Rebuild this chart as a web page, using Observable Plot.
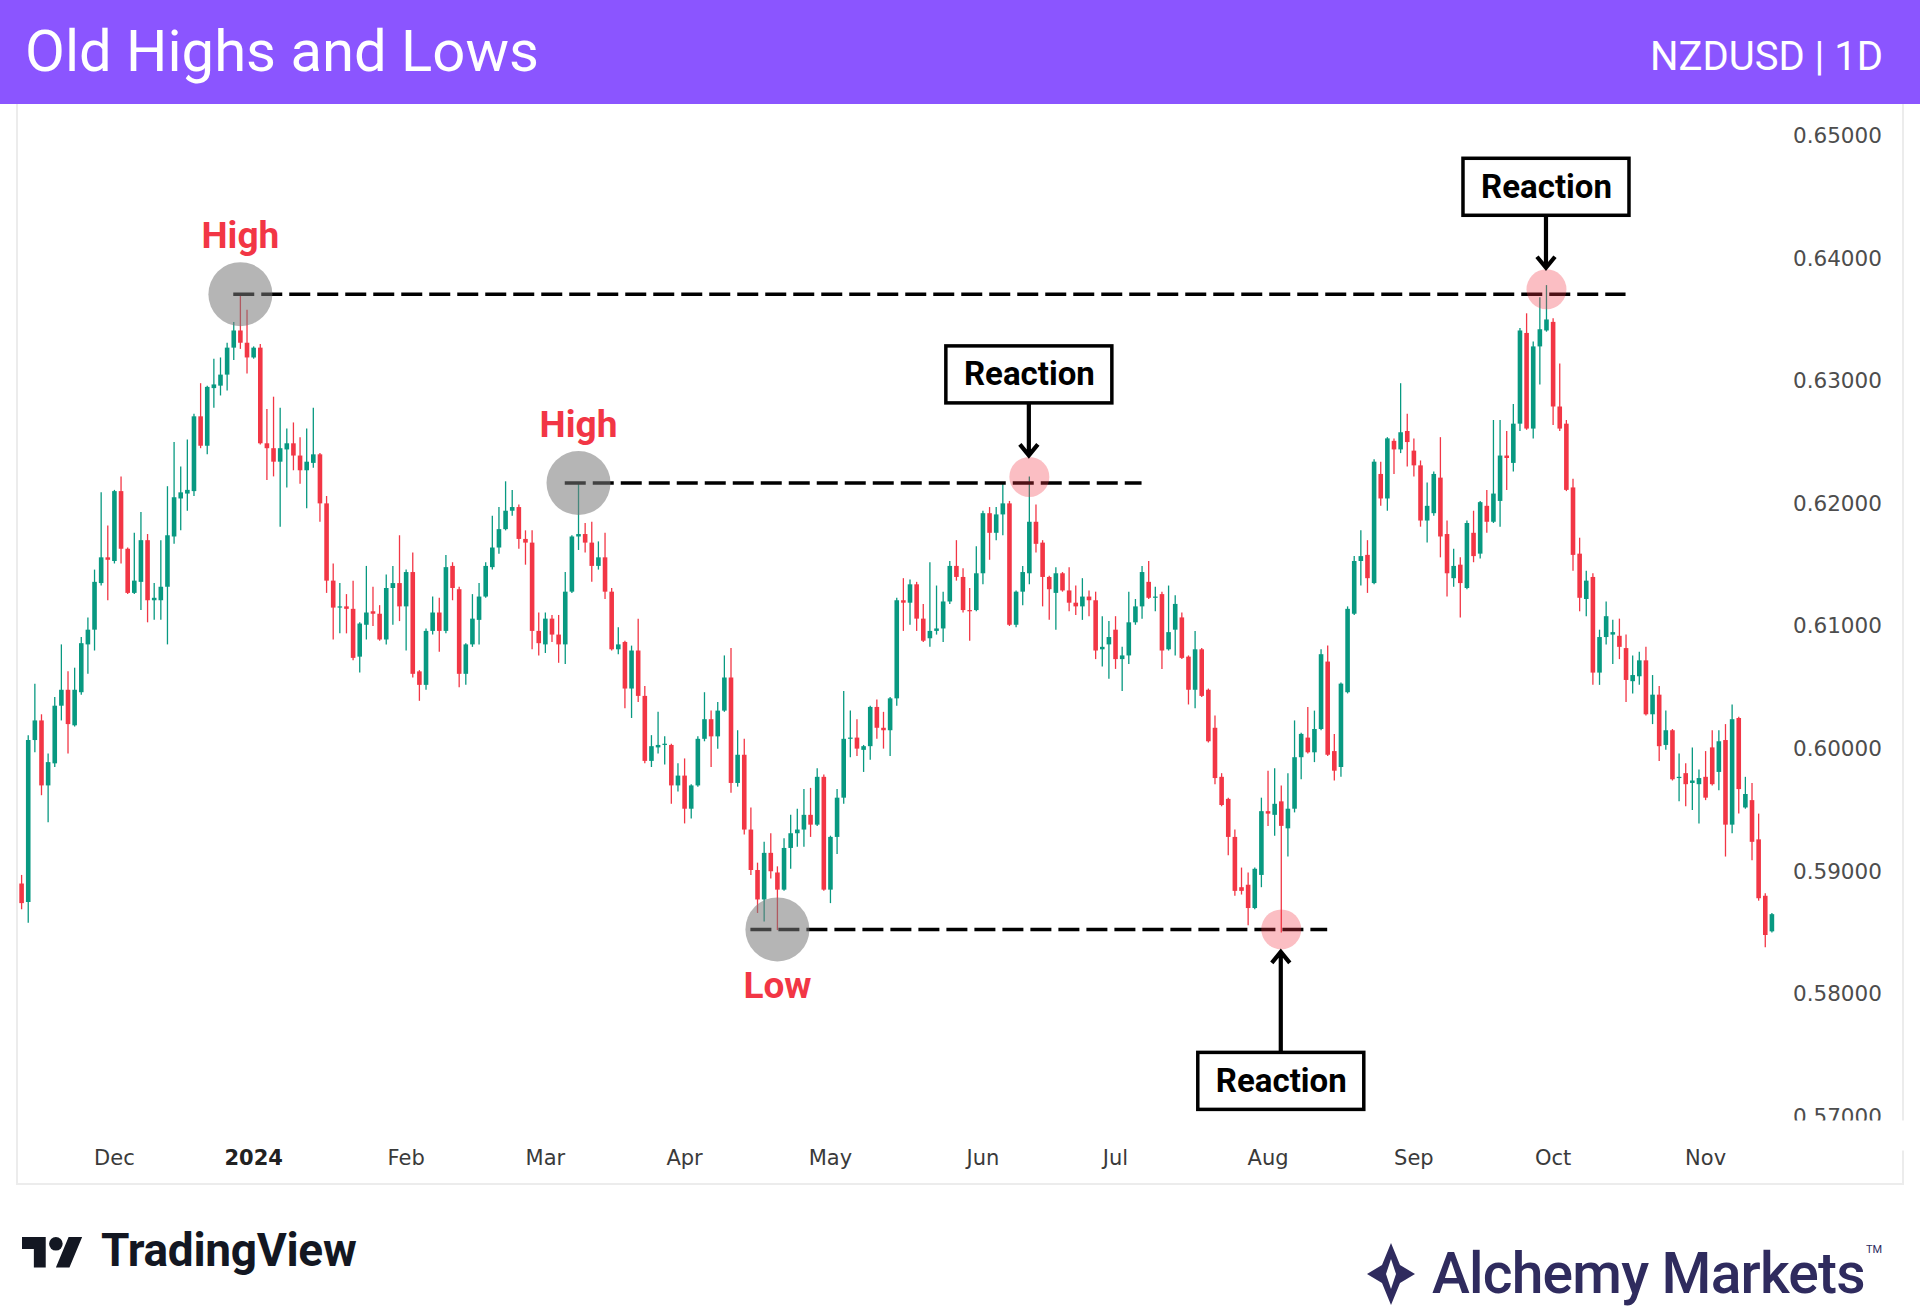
<!DOCTYPE html>
<html>
<head>
<meta charset="utf-8">
<script src="https://cdn.jsdelivr.net/npm/d3@7"></script>
<script src="https://cdn.jsdelivr.net/npm/@observablehq/plot@0.6"></script>
<style>
html,body{margin:0;padding:0;background:#fff;}
body{width:1920px;height:1314px;position:relative;overflow:hidden;font-family:Roboto,sans-serif;}
#header{position:absolute;left:0;top:0;width:1920px;height:104px;background:#8b55ff;}
#title{position:absolute;left:25px;top:22px;color:#fff;font-family:Roboto;font-weight:400;font-size:58px;line-height:58px;white-space:nowrap;}
#symbol{position:absolute;right:37px;top:37px;color:#fff;font-family:Roboto;font-weight:400;font-size:40px;line-height:40px;white-space:nowrap;}
#panel{position:absolute;left:16px;top:104px;width:1884px;height:1079px;border-left:2px solid #ececec;border-right:2px solid #ececec;border-bottom:2px solid #ececec;}
#chart{position:absolute;left:0;top:104px;width:1920px;height:1082px;}
#tvtext{position:absolute;left:101px;top:1227px;font-family:Roboto;font-weight:700;font-size:46px;line-height:46px;color:#131722;letter-spacing:-0.3px;}
#tvicon{position:absolute;left:22px;top:1230px;}
#amtext{position:absolute;left:1432px;top:1245px;font-family:Roboto;font-weight:500;font-size:57px;line-height:57px;color:#2f2b5e;letter-spacing:-0.8px;white-space:nowrap;}
#tm{position:absolute;left:1866px;top:1243px;font-family:Roboto;font-size:11px;color:#2f2b5e;}
#amicon{position:absolute;left:1365px;top:1243px;}
</style>
</head>
<body>
<div id="header"><div id="title">Old Highs and Lows</div><div id="symbol">NZDUSD | 1D</div></div>
<div id="panel"></div>
<div id="chart"></div>
<svg id="tvicon" width="61" height="48" viewBox="0 0 36 28"><path d="M14 22H7V11H0V4h14v18zM28 22h-8l7.5-18h8L28 22z" fill="#131722"/><circle cx="20" cy="8" r="4" fill="#131722"/></svg>
<div id="tvtext">TradingView</div>
<svg id="amicon" width="52" height="62" viewBox="0 0 52 62"><path d="M26 0 L35 22 L50 31 L35 40 L26 62 L17 40 L2 31 L17 22 Z" fill="#2f2b5e"/><path d="M26 16 L31 31 L26 46 L21 31 Z" fill="#fff"/></svg>
<div id="amtext">Alchemy Markets</div>
<div id="tm">TM</div>
<script>
// ---- OHLC data, NZDUSD daily, 2023-11-13 .. 2024-11-15 (weekdays) ----
const opens = [0.5890,0.5875,0.6007,0.6023,0.5970,0.5988,0.6035,0.6048,0.6019,0.6046,0.6085,0.6097,0.6135,0.6156,0.6153,0.6210,0.6163,0.6127,0.6136,0.6170,0.6121,0.6121,0.6132,0.6173,0.6204,0.6208,0.6210,0.6271,0.6247,0.6294,0.6296,0.6305,0.6327,0.6341,0.6331,0.6319,0.6327,0.6249,0.6245,0.6234,0.6244,0.6249,0.6239,0.6227,0.6233,0.6240,0.6200,0.6137,0.6115,0.6116,0.6114,0.6075,0.6101,0.6112,0.6110,0.6089,0.6131,0.6135,0.6116,0.6144,0.6063,0.6052,0.6096,0.6111,0.6096,0.6149,0.6130,0.6061,0.6085,0.6105,0.6124,0.6148,0.6164,0.6179,0.6194,0.6197,0.6171,0.6168,0.6096,0.6085,0.6106,0.6093,0.6085,0.6128,0.6173,0.6175,0.6168,0.6149,0.6156,0.6128,0.6081,0.6087,0.6049,0.6080,0.6043,0.5990,0.6001,0.6003,0.6003,0.5970,0.5978,0.5951,0.5970,0.6008,0.6024,0.6010,0.6031,0.6058,0.5972,0.5995,0.5934,0.5901,0.5877,0.5915,0.5899,0.5885,0.5919,0.5931,0.5934,0.5946,0.5938,0.5977,0.5885,0.5928,0.5960,0.6008,0.6009,0.5999,0.6002,0.6034,0.6017,0.6015,0.6041,0.6121,0.6119,0.6134,0.6106,0.6090,0.6096,0.6098,0.6120,0.6149,0.6140,0.6113,0.6113,0.6143,0.6192,0.6176,0.6191,0.6200,0.6101,0.6128,0.6143,0.6185,0.6168,0.6140,0.6127,0.6143,0.6129,0.6119,0.6116,0.6124,0.6121,0.6081,0.6085,0.6097,0.6073,0.6076,0.6103,0.6116,0.6136,0.6123,0.6126,0.6081,0.6097,0.6107,0.6075,0.6048,0.6081,0.6048,0.6017,0.5977,0.5959,0.5928,0.5887,0.5889,0.5870,0.5897,0.5949,0.5946,0.5957,0.5935,0.5951,0.5993,0.6009,0.5997,0.6016,0.6071,0.5998,0.5985,0.6046,0.6110,0.6153,0.6158,0.6135,0.6224,0.6204,0.6251,0.6244,0.6259,0.6243,0.6231,0.6186,0.6192,0.6221,0.6175,0.6139,0.6150,0.6131,0.6176,0.6159,0.6198,0.6185,0.6202,0.6239,0.6233,0.6265,0.6339,0.6261,0.6328,0.6341,0.6348,0.6279,0.6265,0.6213,0.6159,0.6122,0.6140,0.6062,0.6091,0.6093,0.6092,0.6082,0.6055,0.6059,0.6072,0.6028,0.6044,0.6003,0.6015,0.5976,0.5980,0.5972,0.5971,0.5977,0.6001,0.5981,0.6007,0.5938,0.6025,0.5952,0.5958,0.5926,0.5880,0.5851];
const highs = [0.5897,0.6011,0.6053,0.6028,0.5996,0.6042,0.6085,0.6063,0.6066,0.6091,0.6107,0.6146,0.6209,0.6182,0.6211,0.6222,0.6164,0.6176,0.6193,0.6175,0.6135,0.6170,0.6214,0.6250,0.6230,0.6252,0.6273,0.6298,0.6296,0.6318,0.6319,0.6331,0.6348,0.6370,0.6358,0.6328,0.6330,0.6277,0.6287,0.6278,0.6261,0.6266,0.6254,0.6261,0.6278,0.6241,0.6206,0.6151,0.6135,0.6126,0.6137,0.6103,0.6149,0.6132,0.6117,0.6142,0.6149,0.6174,0.6146,0.6160,0.6064,0.6098,0.6124,0.6123,0.6158,0.6152,0.6132,0.6086,0.6126,0.6135,0.6152,0.6190,0.6197,0.6218,0.6211,0.6199,0.6178,0.6178,0.6111,0.6111,0.6109,0.6109,0.6144,0.6174,0.6217,0.6184,0.6185,0.6169,0.6176,0.6131,0.6099,0.6088,0.6084,0.6106,0.6051,0.6011,0.6030,0.6010,0.6004,0.5988,0.5992,0.5971,0.6010,0.6046,0.6031,0.6038,0.6076,0.6082,0.6015,0.6008,0.5952,0.5907,0.5924,0.5931,0.5904,0.5927,0.5946,0.5951,0.5967,0.5968,0.5984,0.5979,0.5929,0.5967,0.6047,0.6031,0.6024,0.6003,0.6035,0.6040,0.6030,0.6042,0.6123,0.6139,0.6138,0.6136,0.6118,0.6152,0.6133,0.6128,0.6153,0.6170,0.6147,0.6131,0.6165,0.6194,0.6197,0.6197,0.6216,0.6202,0.6129,0.6149,0.6222,0.6199,0.6170,0.6141,0.6148,0.6144,0.6148,0.6133,0.6139,0.6129,0.6128,0.6108,0.6104,0.6108,0.6083,0.6128,0.6122,0.6149,0.6153,0.6132,0.6128,0.6133,0.6125,0.6111,0.6076,0.6096,0.6082,0.6049,0.6027,0.5980,0.5960,0.5934,0.5903,0.5899,0.5903,0.5960,0.5982,0.5984,0.5970,0.5980,0.6023,0.6013,0.6034,0.6031,0.6081,0.6084,0.6012,0.6054,0.6116,0.6157,0.6178,0.6170,0.6236,0.6234,0.6254,0.6253,0.6298,0.6273,0.6253,0.6235,0.6217,0.6226,0.6254,0.6186,0.6163,0.6156,0.6186,0.6194,0.6202,0.6211,0.6268,0.6268,0.6259,0.6281,0.6343,0.6355,0.6332,0.6368,0.6378,0.6351,0.6314,0.6268,0.6220,0.6172,0.6145,0.6143,0.6097,0.6120,0.6105,0.6106,0.6093,0.6076,0.6079,0.6083,0.6060,0.6051,0.6031,0.6016,0.5996,0.5988,0.6001,0.5983,0.5998,0.6015,0.6015,0.6020,0.6036,0.6026,0.5977,0.5972,0.5947,0.5882,0.5866];
const lows = [0.5869,0.5858,0.5997,0.5962,0.5940,0.5985,0.6023,0.5996,0.6018,0.6044,0.6061,0.6080,0.6133,0.6121,0.6151,0.6151,0.6126,0.6126,0.6113,0.6103,0.6105,0.6105,0.6085,0.6167,0.6178,0.6194,0.6206,0.6245,0.6240,0.6278,0.6288,0.6292,0.6317,0.6326,0.6306,0.6318,0.6248,0.6219,0.6222,0.6181,0.6213,0.6227,0.6216,0.6196,0.6229,0.6185,0.6127,0.6089,0.6094,0.6094,0.6072,0.6062,0.6089,0.6100,0.6088,0.6085,0.6101,0.6104,0.6080,0.6058,0.6039,0.6048,0.6093,0.6079,0.6094,0.6121,0.6050,0.6052,0.6083,0.6085,0.6123,0.6146,0.6159,0.6178,0.6190,0.6163,0.6150,0.6081,0.6076,0.6078,0.6087,0.6070,0.6069,0.6127,0.6162,0.6160,0.6136,0.6146,0.6122,0.6080,0.6077,0.6033,0.6025,0.6038,0.5988,0.5985,0.5996,0.5987,0.5955,0.5965,0.5939,0.5943,0.5969,0.6006,0.5985,0.6000,0.6030,0.5964,0.5969,0.5930,0.5897,0.5866,0.5859,0.5894,0.5852,0.5884,0.5902,0.5920,0.5920,0.5928,0.5937,0.5884,0.5874,0.5914,0.5955,0.5993,0.5994,0.5981,0.5991,0.6008,0.6000,0.5994,0.6035,0.6096,0.6101,0.6096,0.6087,0.6083,0.6093,0.6087,0.6118,0.6137,0.6111,0.6088,0.6112,0.6134,0.6154,0.6170,0.6174,0.6100,0.6099,0.6117,0.6134,0.6160,0.6116,0.6105,0.6097,0.6128,0.6112,0.6109,0.6105,0.6108,0.6073,0.6067,0.6057,0.6065,0.6047,0.6069,0.6101,0.6106,0.6122,0.6112,0.6065,0.6080,0.6076,0.6073,0.6036,0.6033,0.6042,0.6005,0.5971,0.5953,0.5913,0.5880,0.5881,0.5856,0.5869,0.5887,0.5937,0.5929,0.5850,0.5912,0.5948,0.5975,0.5996,0.5989,0.6015,0.5994,0.5974,0.5977,0.6045,0.6109,0.6133,0.6127,0.6134,0.6198,0.6194,0.6224,0.6241,0.6230,0.6222,0.6181,0.6168,0.6190,0.6156,0.6124,0.6132,0.6107,0.6130,0.6152,0.6155,0.6176,0.6184,0.6181,0.6211,0.6226,0.6259,0.6260,0.6253,0.6297,0.6340,0.6264,0.6259,0.6210,0.6145,0.6112,0.6108,0.6052,0.6052,0.6085,0.6069,0.6073,0.6038,0.6045,0.6052,0.6027,0.6020,0.5990,0.5999,0.5974,0.5957,0.5953,0.5950,0.5939,0.5958,0.5970,0.5966,0.5912,0.5931,0.5947,0.5951,0.5909,0.5876,0.5838,0.5850];
const closes = [0.5874,0.6007,0.6023,0.5970,0.5989,0.6035,0.6048,0.6020,0.6048,0.6086,0.6097,0.6136,0.6156,0.6154,0.6210,0.6163,0.6127,0.6137,0.6170,0.6121,0.6123,0.6132,0.6174,0.6205,0.6209,0.6211,0.6271,0.6247,0.6295,0.6297,0.6305,0.6327,0.6341,0.6331,0.6319,0.6327,0.6249,0.6245,0.6234,0.6245,0.6249,0.6239,0.6227,0.6234,0.6240,0.6200,0.6137,0.6115,0.6116,0.6114,0.6074,0.6102,0.6111,0.6110,0.6089,0.6131,0.6135,0.6116,0.6144,0.6061,0.6052,0.6096,0.6111,0.6096,0.6148,0.6131,0.6061,0.6085,0.6106,0.6124,0.6149,0.6164,0.6179,0.6194,0.6197,0.6171,0.6168,0.6096,0.6086,0.6106,0.6093,0.6085,0.6128,0.6173,0.6175,0.6168,0.6149,0.6156,0.6128,0.6081,0.6085,0.6049,0.6080,0.6043,0.5990,0.6002,0.6003,0.6004,0.5970,0.5978,0.5951,0.5970,0.6008,0.6024,0.6010,0.6031,0.6058,0.5972,0.5995,0.5934,0.5901,0.5877,0.5915,0.5900,0.5885,0.5919,0.5931,0.5934,0.5946,0.5938,0.5977,0.5885,0.5928,0.5960,0.6008,0.6009,0.6000,0.6002,0.6034,0.6017,0.6015,0.6041,0.6121,0.6119,0.6134,0.6106,0.6088,0.6096,0.6098,0.6120,0.6149,0.6140,0.6113,0.6112,0.6143,0.6192,0.6176,0.6191,0.6200,0.6101,0.6128,0.6144,0.6185,0.6167,0.6140,0.6130,0.6143,0.6129,0.6119,0.6116,0.6124,0.6121,0.6080,0.6083,0.6091,0.6073,0.6076,0.6103,0.6116,0.6144,0.6123,0.6124,0.6080,0.6095,0.6118,0.6074,0.6048,0.6081,0.6043,0.6006,0.5976,0.5954,0.5928,0.5884,0.5884,0.5870,0.5902,0.5949,0.5947,0.5955,0.5937,0.5951,0.5993,0.6012,0.5997,0.6016,0.6077,0.5995,0.5982,0.6053,0.6114,0.6153,0.6157,0.6139,0.6234,0.6204,0.6253,0.6244,0.6258,0.6250,0.6231,0.6186,0.6198,0.6224,0.6173,0.6143,0.6149,0.6135,0.6184,0.6157,0.6201,0.6185,0.6208,0.6239,0.6237,0.6265,0.6341,0.6261,0.6328,0.6342,0.6350,0.6279,0.6261,0.6211,0.6158,0.6123,0.6137,0.6062,0.6091,0.6108,0.6095,0.6083,0.6056,0.6060,0.6072,0.6028,0.6044,0.6002,0.6015,0.5975,0.5977,0.5971,0.5974,0.5976,0.5960,0.5971,0.6006,0.5938,0.6024,0.5967,0.5963,0.5924,0.5878,0.5848,0.5865];

// axis ticks
const yTicks = [0.57, 0.58, 0.59, 0.60, 0.61, 0.62, 0.63, 0.64, 0.65];
const monthStarts = ["2023-12-01","2024-01-01","2024-02-01","2024-03-01","2024-04-01","2024-05-01","2024-06-03","2024-07-01","2024-08-01","2024-09-02","2024-10-01","2024-11-01"];
const monthLabels = ["Dec","2024","Feb","Mar","Apr","May","Jun","Jul","Aug","Sep","Oct","Nov"];

// annotation levels
const levelPrices = [0.6371, 0.6217, 0.5853];
const levelStarts = ["2023-12-27","2024-03-06","2024-04-15"];
const levelEnds = ["2024-10-16","2024-07-05","2024-08-14"];

const pivotDates = ["2023-12-28","2024-03-08","2024-04-19"];
const pivotPrices = [0.6371, 0.6217, 0.5853];
const pivotLabels = ["High","High","Low"];

const reactionDates = ["2024-06-12","2024-08-05","2024-09-30"];
const reactionPrices = [0.6222, 0.5853, 0.6375];
const reactionSides = ["above","below","above"];

// ---- build ----
const fmt = d3.utcFormat("%Y-%m-%d");
const dates = d3.utcDay.range(new Date(Date.UTC(2023,10,13)), new Date(Date.UTC(2024,10,16)))
  .filter(d => d.getUTCDay() !== 0 && d.getUTCDay() !== 6).map(fmt);
const idx = d => dates.indexOf(d);

const UP = "#089981", DOWN = "#f23645";
const candles = dates.map((date, i) => ({
  i, date, open: opens[i], high: highs[i], low: lows[i], close: closes[i],
  color: closes[i] >= opens[i] ? UP : DOWN
}));
const levels = levelPrices.map((p, k) => ({price: p, x1: idx(levelStarts[k]), x2: idx(levelEnds[k])}));
const pivots = pivotPrices.map((p, k) => ({price: p, i: idx(pivotDates[k]), label: pivotLabels[k]}));
const reactions = reactionPrices.map((p, k) => ({price: p, i: idx(reactionDates[k]), side: reactionSides[k], label: "Reaction"}));

const tickIdx = monthStarts.map(idx);
const labelByIdx = new Map(tickIdx.map((t, k) => [t, monthLabels[k]]));
const boldIdx = tickIdx.filter((t, k) => monthLabels[k] === "2024");
const plainIdx = tickIdx.filter((t, k) => monthLabels[k] !== "2024");

const ABOVE_DY = -102, BELOW_DY = 152;

const chart = Plot.plot({
  width: 1920,
  height: 1082,
  marginLeft: 21.1,
  marginRight: 148.6,
  marginTop: 31.5,
  marginBottom: 69.5,
  style: {background: "transparent", fontFamily: "'DejaVu Sans', sans-serif", fontSize: "21px", overflow: "visible"},
  x: {type: "linear", domain: [0, dates.length - 1]},
  y: {domain: [0.57, 0.65]},
  color: {type: "identity"},
  marks: [
    Plot.axisY({ticks: yTicks, anchor: "right", tickSize: 0, tickPadding: 0, dx: 110, textAnchor: "end",
      tickFormat: d3.format(".5f"), label: null, fill: "#4d4d4d", fontSize: 21.5}),
    Plot.axisX({ticks: plainIdx, anchor: "bottom", tickSize: 0, tickPadding: 33,
      tickFormat: t => labelByIdx.get(t), label: null, fill: "#3a3a3a", fontSize: 21}),
    Plot.axisX({ticks: boldIdx, anchor: "bottom", tickSize: 0, tickPadding: 33,
      tickFormat: t => labelByIdx.get(t), label: null, fill: "#222", fontSize: 21, fontWeight: "bold"}),
    // wicks
    Plot.ruleX(candles, {x: "i", y1: "low", y2: "high", stroke: "color", strokeWidth: 1.3}),
    // bodies
    Plot.ruleX(candles, {x: "i", y1: "open", y2: "close", stroke: "color", strokeWidth: 4.6}),
    // old high / low levels
    Plot.ruleY(levels, {y: "price", x1: "x1", x2: "x2", stroke: "#000", strokeWidth: 3.5, strokeDasharray: "21,7"}),
    // markers
    Plot.dot(pivots, {x: "i", y: "price", r: 32, fill: "#787878", fillOpacity: 0.55, stroke: "none"}),
    Plot.dot(reactions, {x: "i", y: "price", r: 20, fill: "#f23645", fillOpacity: 0.32, stroke: "none"}),
    Plot.text(pivots.filter(d => d.label === "High"), {x: "i", y: "price", text: "label", dy: -58,
      fontFamily: "Roboto", fontWeight: 700, fontSize: 37, fill: "#f23645"}),
    Plot.text(pivots.filter(d => d.label === "Low"), {x: "i", y: "price", text: "label", dy: 57,
      fontFamily: "Roboto", fontWeight: 700, fontSize: 37, fill: "#f23645"}),
    Plot.text(reactions.filter(d => d.side === "above"), {x: "i", y: "price", text: "label", dy: ABOVE_DY,
      fontFamily: "Roboto", fontWeight: 700, fontSize: 33, fill: "#000"}),
    Plot.text(reactions.filter(d => d.side === "below"), {x: "i", y: "price", text: "label", dy: BELOW_DY,
      fontFamily: "Roboto", fontWeight: 700, fontSize: 33, fill: "#000"})
  ]
});
document.getElementById("chart").appendChild(chart);

// boxes and arrows for the "Reaction" callouts, placed through the chart's scales
const svgNS = "http://www.w3.org/2000/svg";
const sx = chart.scale("x"), sy = chart.scale("y");
const fx = sx.apply ? sx.apply : d3.scaleLinear(sx.domain, sx.range);
const fy = sy.apply ? sy.apply : d3.scaleLinear(sy.domain, sy.range);
const g = document.createElementNS(svgNS, "g");
const BW = 166, BH = 57;
for (const r of reactions) {
  const cx = fx(r.i), cy = fy(r.price);
  const above = r.side === "above";
  const by = cy + (above ? ABOVE_DY : BELOW_DY);
  const rect = document.createElementNS(svgNS, "rect");
  rect.setAttribute("x", cx - BW / 2); rect.setAttribute("y", by - BH / 2);
  rect.setAttribute("width", BW); rect.setAttribute("height", BH);
  rect.setAttribute("fill", "#fff"); rect.setAttribute("stroke", "#000"); rect.setAttribute("stroke-width", 3.5);
  g.appendChild(rect);
  const start = above ? by + BH / 2 : by - BH / 2;
  const tip = above ? cy - 21 : cy + 23;
  const s = above ? -1 : 1;
  const shaft = document.createElementNS(svgNS, "path");
  shaft.setAttribute("d", `M${cx},${start}L${cx},${tip}M${cx - 9},${tip + s * 11}L${cx},${tip}L${cx + 9},${tip + s * 11}`);
  shaft.setAttribute("fill", "none"); shaft.setAttribute("stroke", "#000"); shaft.setAttribute("stroke-width", 4.2);
  g.appendChild(shaft);
}
// the time-scale strip hides the lower part of the lowest price label, as in the source chart
const strip = document.createElementNS(svgNS, "rect");
strip.setAttribute("x", fx(dates.length - 1) + 12);
strip.setAttribute("y", fy(0.57) + 4);
strip.setAttribute("width", 125);
strip.setAttribute("height", 30);
strip.setAttribute("fill", "#fff");
g.appendChild(strip);
chart.appendChild(g);
// keep the callout texts above their boxes
const reactionGroups = new Set([...chart.querySelectorAll("text")]
  .filter(t => t.textContent === "Reaction").map(t => t.parentNode));
reactionGroups.forEach(n => chart.appendChild(n));
</script>
</body>
</html>
